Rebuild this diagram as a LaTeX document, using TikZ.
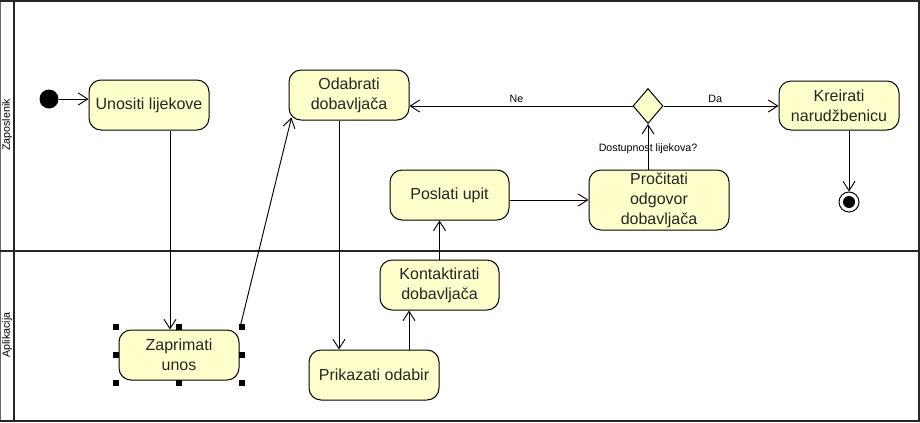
\documentclass[tikz,border=0pt]{standalone}
\usepackage{fontspec}
\setmainfont{Liberation Sans}
\usetikzlibrary{arrows.meta,shapes.geometric,calc}
\definecolor{boxfill}{HTML}{FFFFCC}
\begin{document}
\begin{tikzpicture}[x=0.75pt,y=-0.75pt,
  act/.style={draw=black,fill=boxfill,rounded corners=9pt,line width=0.75pt,
    minimum width=90pt,minimum height=37.5pt,inner sep=0pt,align=center,
    font=\fontsize{12}{15}\selectfont,text=black!85},
  arr/.style={-{Straight Barb[length=7pt,width=9pt]},line width=0.7pt},
  lane/.style={line width=1.5pt,draw=black!85},
  small/.style={font=\fontsize{8}{10}\selectfont,inner sep=1pt},
  handle/.style={fill=black,minimum size=4pt,inner sep=0pt}]
\useasboundingbox (0,0) rectangle (920,422);
% frame and lanes
\draw[line width=1pt,draw=black!60] (0.5,1) -- (0.5,420.5);
\draw[lane] (0,1) -- (919,1) -- (919,420.5) -- (0,420.5);
\draw[lane] (14,1) -- (14,420.5);
\draw[lane] (0,250.5) -- (919,250.5);
\node[small,rotate=90] (laneA) at (7,125) {Zaposlenik};
\node[small,rotate=90] (laneB) at (7,335) {Aplikacija};
% nodes
\node[circle,fill=black,minimum size=14.25pt,inner sep=0pt] (init) at (49,99) {};
\node[act] (uno) at (149,105) {Unositi lijekove};
\node[act] (zap) at (179,355) {Zaprimati\\unos};
\node[act] (oda) at (349,95) {Odabrati\\dobavljača};
\node[act,minimum width=97.5pt] (pri) at (374,375) {Prikazati odabir};
\node[act,minimum width=89.25pt] (kon) at (439.5,285) {Kontaktirati\\dobavljača};
\node[act,minimum width=89.25pt] (pos) at (449.5,195) {Poslati upit};
\node[act,minimum width=105pt,minimum height=45pt] (pro) at (659,200) {Pročitati\\odgovor\\dobavljača};
\node[diamond,draw=black,fill=boxfill,line width=0.75pt,minimum width=22.5pt,minimum height=26.25pt,inner sep=0pt] (dia) at (648,106) {};
\node[act,minimum height=36.75pt] (kre) at (839,105.5) {Kreirati\\narudžbenicu};
\node[circle,draw=black,fill=white,line width=0.75pt,minimum size=15pt,inner sep=0pt] (fin) at (849,202) {};
\node[circle,fill=black,minimum size=9pt,inner sep=0pt] (finc) at (fin.center) {};
% selection handles
\foreach \dx/\dy in {-47.25pt/-21pt,0pt/-21pt,47.25pt/-21pt,-47.25pt/0pt,47.25pt/0pt,-47.25pt/21pt,0pt/21pt,47.25pt/21pt}
  \node[handle] at ([shift={(\dx,\dy)}]zap.center) {};
% connectors
\draw[arr] (init) -- (init -| uno.west);
\draw[arr] ([xshift=15.75pt]uno.south) -- ([xshift=15.75pt]uno.south |- zap.north);
\draw[arr] (zap.north east) -- ([xshift=2.25pt,yshift=2.25pt]oda.south west);
\draw[arr] ([xshift=-7.5pt]oda.south) -- ([xshift=-7.5pt]oda.south |- pri.north);
\draw[arr] ([xshift=26.25pt]pri.north) -- ([xshift=26.25pt]pri.north |- kon.south);
\draw[arr] (kon.north) -- (kon.north |- pos.south);
\draw[arr] (pro.west -| pos.east) -- (pro.west);
\draw[arr] ([xshift=-8.25pt]pro.north) -- ([xshift=-8.25pt]pro.north |- dia.south)
  node[small,pos=0.45] {Dostupnost lijekova?};
\draw[arr] (dia.west) -- (dia.west -| oda.east) node[small,pos=0.52,above=1pt] {Ne};
\draw[arr] (dia.east) -- (dia.east -| kre.west) node[small,pos=0.45,above=1pt] {Da};
\draw[arr] ([xshift=7.5pt]kre.south) -- (fin);
\end{tikzpicture}
\end{document}
